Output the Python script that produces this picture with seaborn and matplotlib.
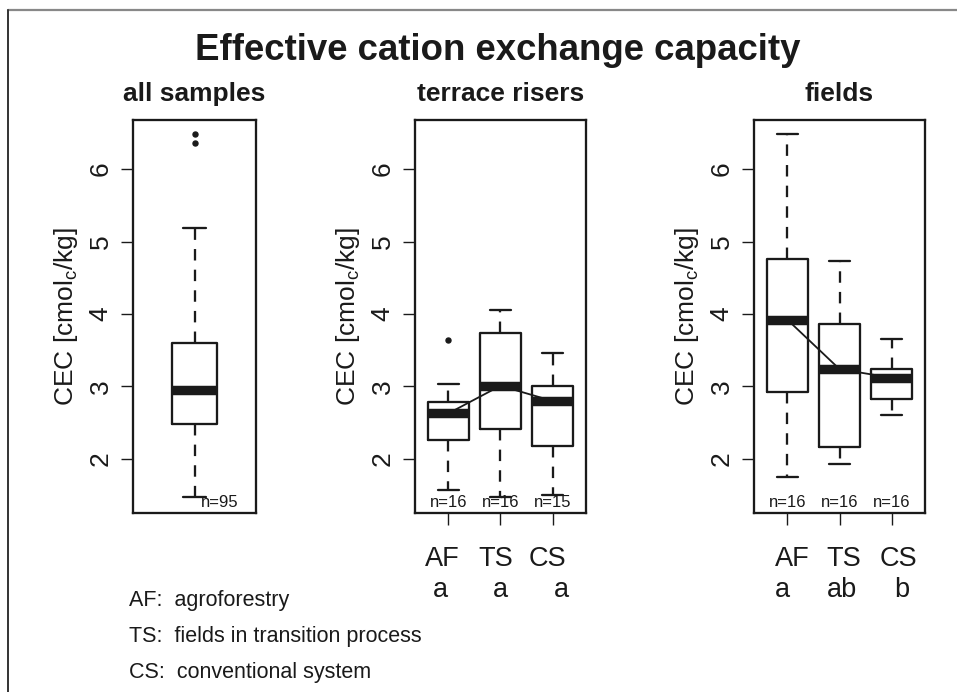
import matplotlib
matplotlib.use("Agg")
import matplotlib.pyplot as plt
import matplotlib.transforms as mtransforms
from matplotlib.lines import Line2D
import seaborn as sns

# ---------------- data ----------------
TITLE = "Effective cation exchange capacity"
PANEL_TITLES = ["all samples", "terrace risers", "fields"]
YLABEL = r"CEC [cmol$_{\mathregular{c}}$/kg]"
GROUPS = ["AF", "TS", "CS"]
YTICKS = [2, 3, 4, 5, 6]

# all samples: lower whisker, Q1, median, Q3, upper whisker
ALL_LOW = [1.48]
ALL_Q1 = [2.48]
ALL_MED = [2.95]
ALL_Q3 = [3.60]
ALL_HIGH = [5.19]
ALL_FLIERS = [[6.36, 6.48]]
ALL_N = [95]

# terrace risers
TERRACE_LOW = [1.57, 1.48, 1.50]
TERRACE_Q1 = [2.26, 2.41, 2.18]
TERRACE_MED = [2.63, 3.01, 2.80]
TERRACE_Q3 = [2.79, 3.74, 3.01]
TERRACE_HIGH = [3.03, 4.05, 3.46]
TERRACE_FLIERS = [[3.64], [], []]
TERRACE_N = [16, 16, 15]
TERRACE_LETTERS = ["a", "a", "a"]

# fields
FIELDS_LOW = [1.75, 1.93, 2.60]
FIELDS_Q1 = [2.93, 2.17, 2.83]
FIELDS_MED = [3.92, 3.24, 3.12]
FIELDS_Q3 = [4.76, 3.86, 3.24]
FIELDS_HIGH = [6.48, 4.73, 3.66]
FIELDS_FLIERS = [[], [], []]
FIELDS_N = [16, 16, 16]
FIELDS_LETTERS = ["a", "ab", "b"]

LEGEND_LINES = ["AF:  agroforestry",
                "TS:  fields in transition process",
                "CS:  conventional system"]

# ---------------- style ----------------
sns.set_theme(style="white")
plt.rcParams['font.family'] = ['Liberation Sans', 'DejaVu Sans']
plt.rcParams['mathtext.fontset'] = 'custom'
plt.rcParams['mathtext.rm'] = 'Liberation Sans'
plt.rcParams['mathtext.it'] = 'Liberation Sans:italic'
plt.rcParams['mathtext.bf'] = 'Liberation Sans:bold'

INK = '#1a1a1a'
LW = 1.65
W, H = 957, 692

fig = plt.figure(figsize=(W / 100, H / 100), dpi=100)
fig.patch.set_facecolor('white')


def ax_rect(x0, x1, y0=120, y1=513):
    return [x0 / W, 1 - y1 / H, (x1 - x0) / W, (y1 - y0) / H]


ax1 = fig.add_axes(ax_rect(133, 256))
ax2 = fig.add_axes(ax_rect(415, 586))
ax3 = fig.add_axes(ax_rect(754, 925))


def make_stats(low, q1, med, q3, high, fliers):
    return [dict(whislo=a, q1=b, med=c, q3=d, whishi=e, fliers=f)
            for a, b, c, d, e, f in zip(low, q1, med, q3, high, fliers)]


def draw_panel(ax, stats, positions, width, xlim, title, ns, n_x):
    ax.bxp(stats, positions=positions, widths=width,
           capwidths=width / 2, showfliers=True, patch_artist=False,
           boxprops=dict(color=INK, lw=LW),
           medianprops=dict(color=INK, lw=6.8, solid_capstyle='butt'),
           whiskerprops=dict(color=INK, lw=LW, linestyle=(0, (5, 4))),
           capprops=dict(color=INK, lw=LW),
           flierprops=dict(marker='o', markersize=3.6, markerfacecolor=INK,
                           markeredgecolor=INK, linestyle='none'))
    ax.set_xlim(*xlim)
    ax.set_ylim(1.255, 6.676)
    ax.set_yticks(YTICKS)
    ax.set_yticklabels([str(t) for t in YTICKS], rotation=90, va='center',
                       fontsize=19, color=INK)
    ax.tick_params(axis='y', left=True, length=8.6, width=1.0, pad=6,
                   color=INK)
    for sp in ax.spines.values():
        sp.set_visible(True)
        sp.set_color(INK)
        sp.set_linewidth(LW)
    ax.set_title(title, fontsize=19, fontweight='bold', pad=14, color=INK)
    ax.set_ylabel(YLABEL, fontsize=19, color=INK)
    ax.yaxis.set_label_coords(-53 / (ax.get_position().width * W), 0.5)
    ax.set_xlabel("")
    trans = mtransforms.blended_transform_factory(ax.transData, ax.transAxes)
    for x, n in zip(n_x, ns):
        ax.text(x, 0.014, f"n={n}", transform=trans, ha='center',
                va='baseline', fontsize=12, color=INK)
    return trans


# panel 1: all samples
stats1 = make_stats(ALL_LOW, ALL_Q1, ALL_MED, ALL_Q3, ALL_HIGH, ALL_FLIERS)
draw_panel(ax1, stats1, [1], 0.36, (0.5, 1.5), PANEL_TITLES[0], ALL_N, [1.207])
ax1.set_xticks([])

# panels 2 and 3
POS = [1, 2, 3]
XLIM = (0.356, 3.644)
NAME_OFFS = {"terrace": [-0.11, -0.10, -0.10], "fields": [0.09, 0.09, 0.13]}
LETTER_OFFS = {"terrace": [-0.15, 0.0, 0.17], "fields": [-0.10, 0.04, 0.19]}

for ax, key, title, low, q1, med, q3, high, fl, ns, letters in [
    (ax2, "terrace", PANEL_TITLES[1], TERRACE_LOW, TERRACE_Q1, TERRACE_MED,
     TERRACE_Q3, TERRACE_HIGH, TERRACE_FLIERS, TERRACE_N, TERRACE_LETTERS),
    (ax3, "fields", PANEL_TITLES[2], FIELDS_LOW, FIELDS_Q1, FIELDS_MED,
     FIELDS_Q3, FIELDS_HIGH, FIELDS_FLIERS, FIELDS_N, FIELDS_LETTERS)]:
    st = make_stats(low, q1, med, q3, high, fl)
    trans = draw_panel(ax, st, POS, 0.8, XLIM, title, ns, POS)
    # line connecting the medians
    sns.lineplot(x=POS, y=med, ax=ax, color=INK, lw=1.3, zorder=3,
                 legend=False)
    ax.set_xlabel("")
    ax.set_ylabel(YLABEL, fontsize=19, color=INK)
    ax.yaxis.set_label_coords(-53 / (ax.get_position().width * W), 0.5)
    ax.set_xlim(*XLIM)
    ax.set_xticks(POS)
    ax.set_xticklabels([""] * 3)
    ax.tick_params(axis='x', bottom=True, length=8.6, width=1.0, color=INK)
    for p, g, off in zip(POS, GROUPS, NAME_OFFS[key]):
        ax.text(p + off, -0.135, g, transform=trans, ha='center',
                va='baseline', fontsize=19.5, color=INK)
    for p, l, off in zip(POS, letters, LETTER_OFFS[key]):
        ax.text(p + off, -0.214, l, transform=trans, ha='center',
                va='baseline', fontsize=19.5, color=INK)

# main title
fig.text(497.5 / W, 1 - 60 / H, TITLE, ha='center', va='baseline',
         fontsize=26.4, fontweight='bold', color=INK)

# legend text
for yb, line in zip([606, 642, 678], LEGEND_LINES):
    fig.text(129 / W, 1 - yb / H, line, ha='left', va='baseline',
             fontsize=15.5, color=INK)

# outer frame (top and left edges visible)
fig.add_artist(Line2D([8 / W, 1.0], [1 - 10 / H, 1 - 10 / H],
                      transform=fig.transFigure, color='#888888', lw=1.6))
fig.add_artist(Line2D([8 / W, 8 / W], [0.0, 1 - 10 / H],
                      transform=fig.transFigure, color='#333333', lw=1.4))

fig.savefig("out.png", dpi=100, facecolor='white')
